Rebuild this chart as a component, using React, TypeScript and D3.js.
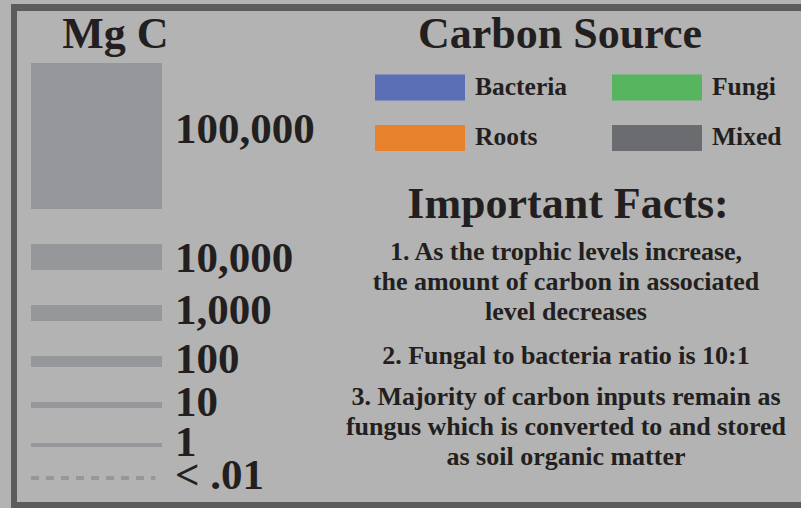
import React from 'react';
import * as d3 from 'd3';

// Carbon amounts per level (Mg C)
const levelValues = [100000, 10000, 1000, 100, 10, 1, 0.01];
const levelLabels = ['100,000', '10,000', '1,000', '100', '10', '1', '< .01'];

// Carbon source legend
const sourceNames = ['Bacteria', 'Fungi', 'Roots', 'Mixed'];
const sourceColors = ['#5a6fb6', '#57b45f', '#e8812c', '#6b6c6f'];

const factLines = [
  ['1. As the trophic levels increase,', 'the amount of carbon in associated', 'level decreases'],
  ['2. Fungal to bacteria ratio is 10:1'],
  ['3. Majority of carbon inputs remain as', 'fungus which is converted to and stored', 'as soil organic matter'],
];

const W = 801;
const H = 508;
const BG = '#b2b3b2';
const FRAME = '#5b5c5e';
const BAR = '#96979a';
const INK = '#231f20';
const FONT = "'Liberation Serif'";

// Bar thickness from value (piecewise log scale)
const thick = d3
  .scaleLog()
  .domain([0.01, 1, 10, 100, 1000, 10000, 100000])
  .range([4, 4, 6, 11, 16, 26, 146]);
const x = d3.scaleLinear().domain([0, 1]).range([31, 162]);
const gap = 35;

const rows: { top: number; h: number }[] = [];
{
  let top = 63;
  levelValues.forEach((v, i) => {
    const h = thick(v);
    rows.push({ top, h });
    // dashed "< .01" row sits a little tighter
    top += h + (i === levelValues.length - 2 ? gap - 6 : gap);
  });
}

const txt = (size: number): React.CSSProperties => ({
  fontFamily: FONT,
  fontWeight: 'bold',
  fontSize: `${size}px`,
});

const App: React.FC = () => {
  const colX = [375, 612];
  const rowY = [74.5, 125];
  const blockStart = [260, 363.5, 404.5];

  return (
    <svg width={W} height={H} style={{ position: 'absolute', left: 0, top: 0, display: 'block' }}>
      <rect width={W} height={H} fill={BG} />
      <rect x={11} y={4} width={W} height={H} fill={FRAME} />
      <rect x={17} y={11} width={W} height={491} fill={BG} />

      {/* Mg C bars */}
      <g>
        {levelValues.map((v, i) => {
          const { top, h } = rows[i];
          return (
            <g key={i}>
              {v < 1 ? (
                <line
                  x1={x(0)}
                  x2={x(0.95)}
                  y1={top + h / 2}
                  y2={top + h / 2}
                  stroke={BAR}
                  strokeWidth={h}
                  strokeDasharray="8,7"
                />
              ) : (
                <rect x={x(0)} y={top} width={x(1) - x(0)} height={h} fill={BAR} />
              )}
              <text x={x(1) + 13} y={top + h / 2 + (i === 0 ? 7 : i === 1 ? 15 : 11)} fill={INK} style={txt(43)}>
                {levelLabels[i]}
              </text>
            </g>
          );
        })}
      </g>

      {/* Titles */}
      <text x={115.5} y={48} textAnchor="middle" fill={INK} style={txt(44)}>Mg C</text>
      <text x={560} y={47.5} textAnchor="middle" fill={INK} style={txt(44)}>Carbon Source</text>
      <text x={568} y={218} textAnchor="middle" fill={INK} style={txt(44)}>Important Facts:</text>

      {/* Legend */}
      <g>
        {sourceNames.map((name, i) => {
          const lx = colX[i % 2];
          const ly = rowY[Math.floor(i / 2)];
          return (
            <g key={name}>
              <rect x={lx} y={ly} width={90} height={26} fill={sourceColors[i]} />
              <text x={lx + 100} y={ly + 20} fill={INK} style={txt(25.5)}>{name}</text>
            </g>
          );
        })}
      </g>

      {/* Facts */}
      <g>
        {factLines.map((lines, b) =>
          lines.map((line, j) => (
            <text
              key={`${b}-${j}`}
              x={566}
              y={blockStart[b] + j * 30}
              textAnchor="middle"
              fill={INK}
              style={txt(26)}
            >
              {line}
            </text>
          ))
        )}
      </g>
    </svg>
  );
};

export default App;
